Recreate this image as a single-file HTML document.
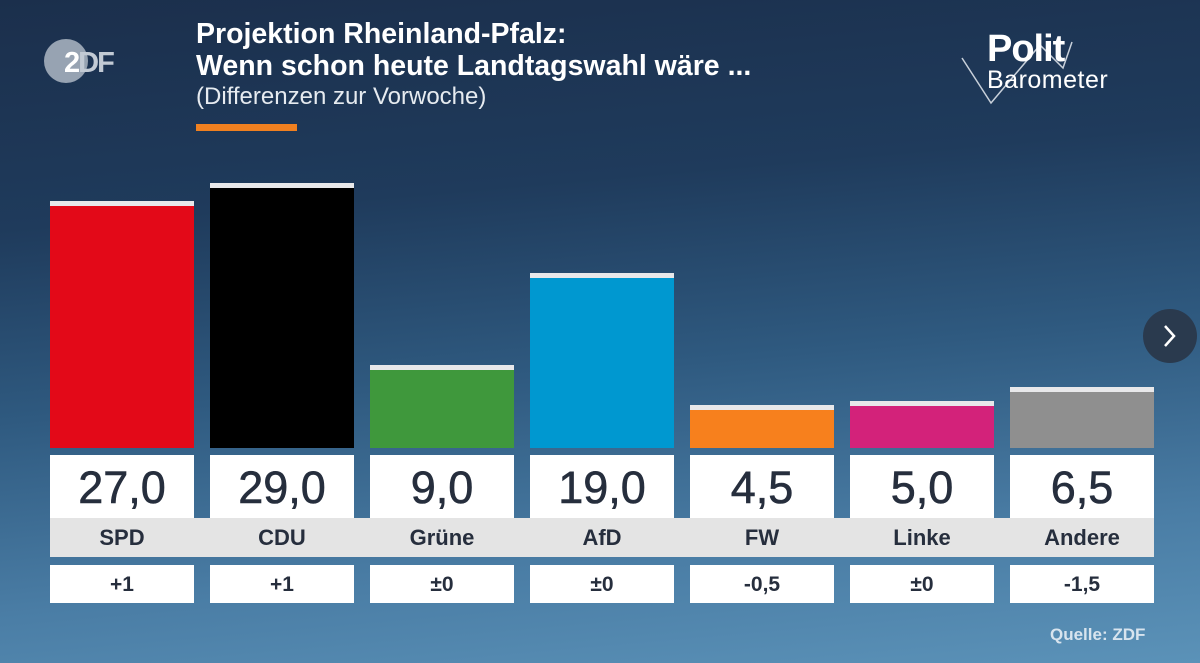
<!DOCTYPE html>
<html><head><meta charset="utf-8"><style>
*{margin:0;padding:0;box-sizing:border-box}
body{width:1200px;height:663px;overflow:hidden;position:relative;font-family:"Liberation Sans",sans-serif;
background:linear-gradient(175deg,#1b2f4c 0%,#1f3b5c 30%,#2f5a80 55%,#4a7da5 80%,#5b92b8 100%);}
.abs{position:absolute}
.bar{position:absolute;width:144px;border-top:5px solid #e8e8ea}
.val{position:absolute;top:455px;width:144px;height:63px;background:#fff;color:#262e3d;font-size:45px;text-align:center;line-height:66px;-webkit-text-stroke:0.6px #262e3d}
.lab{position:absolute;top:518px;width:144px;height:39px;color:#262e3d;font-size:22px;font-weight:bold;text-align:center;line-height:40px}
.dif{position:absolute;top:565px;width:144px;height:38px;background:#fff;color:#262e3d;font-size:21px;font-weight:bold;text-align:center;line-height:40px}
</style></head><body>
<div class="abs" style="left:44px;top:39px;width:44px;height:44px;border-radius:50%;background:#97a3b2"></div>
<div class="abs" style="left:64px;top:47px;font-size:29px;font-weight:bold;color:#fff;letter-spacing:-2px">2<span style="color:#c2cad4">DF</span></div>
<div class="abs" style="left:196px;top:18px;color:#fff;font-size:28.5px;font-weight:bold;line-height:32px">Projektion Rheinland-Pfalz:<br>Wenn schon heute Landtagswahl wäre ...</div>
<div class="abs" style="left:196px;top:83px;color:#e6ebf0;font-size:24px">(Differenzen zur Vorwoche)</div>
<div class="abs" style="left:196px;top:124px;width:101px;height:7px;background:#f08020"></div>
<svg class="abs" style="left:955px;top:30px" width="170" height="80"><polyline points="7,28 36,73 85,15 108,38 117,12" fill="none" stroke="#c8d0da" stroke-width="1.5"/></svg>
<div class="abs" style="left:987px;top:28px;color:#fff;font-size:38px;font-weight:bold;letter-spacing:-1px">Polit</div>
<div class="abs" style="left:987px;top:66px;color:#fff;font-size:25px;letter-spacing:0.5px">Barometer</div>
<div class="abs" style="left:1143px;top:309px;width:54px;height:54px;border-radius:50%;background:#2a3a4e"></div>
<svg class="abs" style="left:1160px;top:322px" width="20" height="28"><polyline points="5,4 14,14 5,24" fill="none" stroke="#fff" stroke-width="2.5"/></svg>

<div class="bar" style="left:50px;top:201px;height:247px;background:#e30918"></div>
<div class="bar" style="left:210px;top:183px;height:265px;background:#000"></div>
<div class="bar" style="left:370px;top:365px;height:83px;background:#3f983c"></div>
<div class="bar" style="left:530px;top:273px;height:175px;background:#0098d0"></div>
<div class="bar" style="left:690px;top:405px;height:43px;background:#f7801d"></div>
<div class="bar" style="left:850px;top:401px;height:47px;background:#d3227a"></div>
<div class="bar" style="left:1010px;top:387px;height:61px;background:#8f8f8f"></div>

<div class="abs" style="left:50px;top:518px;width:1104px;height:39px;background:#e4e4e4"></div>
<div class="val" style="left:50px">27,0</div><div class="lab" style="left:50px">SPD</div><div class="dif" style="left:50px">+1</div>
<div class="val" style="left:210px">29,0</div><div class="lab" style="left:210px">CDU</div><div class="dif" style="left:210px">+1</div>
<div class="val" style="left:370px">9,0</div><div class="lab" style="left:370px">Grüne</div><div class="dif" style="left:370px">±0</div>
<div class="val" style="left:530px">19,0</div><div class="lab" style="left:530px">AfD</div><div class="dif" style="left:530px">±0</div>
<div class="val" style="left:690px">4,5</div><div class="lab" style="left:690px">FW</div><div class="dif" style="left:690px">-0,5</div>
<div class="val" style="left:850px">5,0</div><div class="lab" style="left:850px">Linke</div><div class="dif" style="left:850px">±0</div>
<div class="val" style="left:1010px">6,5</div><div class="lab" style="left:1010px">Andere</div><div class="dif" style="left:1010px">-1,5</div>
<div class="abs" style="left:1050px;top:625px;color:#d8e4ee;font-size:17px;font-weight:bold">Quelle: ZDF</div>
</body></html>
